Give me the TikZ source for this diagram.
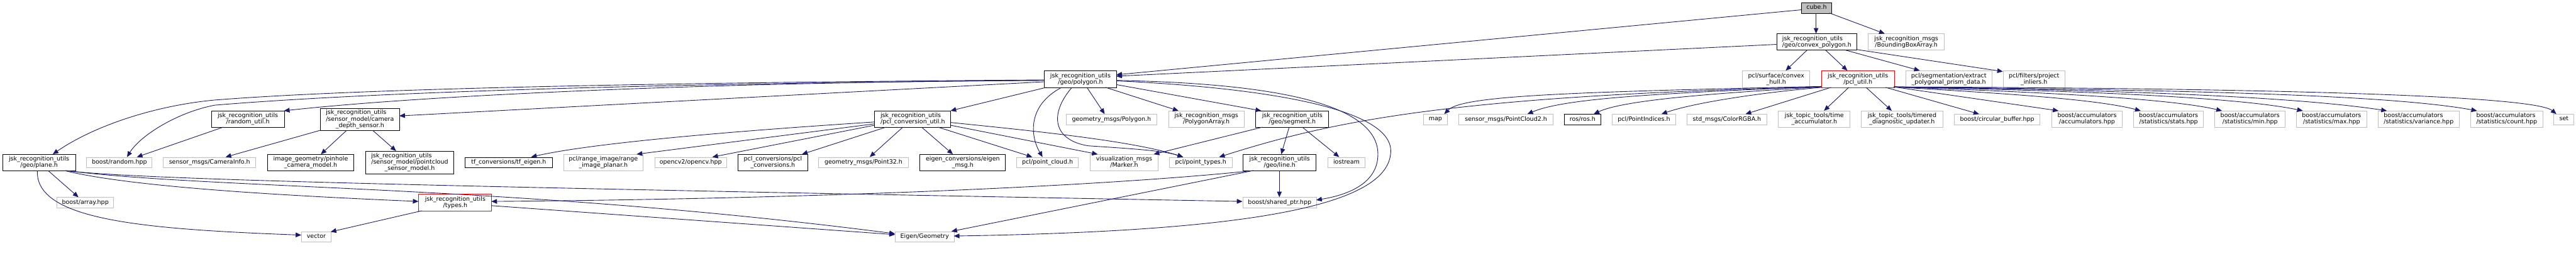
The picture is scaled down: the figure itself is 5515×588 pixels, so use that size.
\documentclass[tikz,border=0pt]{standalone}
\usepackage{fontspec}
\setmainfont{DejaVu Sans}
\usetikzlibrary{arrows.meta}
\definecolor{edgec}{HTML}{191970}
\definecolor{grayc}{HTML}{BFBFBF}
\definecolor{cubefill}{HTML}{BFBFBF}
\newcommand{\twoline}[2]{\begin{tabular}{@{}l@{}}#1\\\multicolumn{1}{@{}c@{}}{#2}\end{tabular}}
\newcommand{\threeline}[3]{\begin{tabular}{@{}l@{}}#1\\#2\\\multicolumn{1}{@{}c@{}}{#3}\end{tabular}}
\begin{document}
\begin{tikzpicture}[x=1pt,y=-1pt,
  box/.style={line width=1.3pt, inner sep=0pt, anchor=north west, font=\fontsize{12.8}{13}\selectfont},
  gbox/.style={box, draw=grayc},
  dbox/.style={box, draw=black},
  rbox/.style={box, draw=red},
  dep/.style={draw=edgec, line width=1.2pt, -{Triangle[length=12pt,width=10pt]}}]
\fill[white] (0,0) rectangle (5515,588);
\useasboundingbox (0,0) rectangle (5515,588);
% row 0
\node[dbox, fill=cubefill, minimum width=65pt, minimum height=23pt] (cube) at (3856,5) {\strut cube.h};
% row 1
\node[dbox, minimum width=172pt, minimum height=35pt] (convex) at (3803,72) {\twoline{jsk\_recognition\_utils}{/geo/convex\_polygon.h}};
\node[gbox, minimum width=163pt, minimum height=35pt] (bba) at (3999,72) {\twoline{jsk\_recognition\_msgs}{/BoundingBoxArray.h}};
% row 2
\node[dbox, minimum width=155pt, minimum height=36pt] (polygon) at (2235,151) {\twoline{jsk\_recognition\_utils}{/geo/polygon.h}};
\node[gbox, minimum width=144pt, minimum height=36pt] (convhull) at (3730,151) {\twoline{pcl/surface/convex}{\_hull.h}};
\node[rbox, minimum width=156pt, minimum height=36pt] (pclutil) at (3899,151) {\twoline{jsk\_recognition\_utils}{/pcl\_util.h}};
\node[gbox, minimum width=185pt, minimum height=36pt] (extract) at (4079,151) {\twoline{pcl/segmentation/extract}{\_polygonal\_prism\_data.h}};
\node[gbox, minimum width=132pt, minimum height=36pt] (projinl) at (4288,151) {\twoline{pcl/filters/project}{\_inliers.h}};
% row 3
\node[dbox, minimum width=156pt, minimum height=35pt] (randutil) at (452,237) {\twoline{jsk\_recognition\_utils}{/random\_util.h}};
\node[dbox, minimum width=170pt, minimum height=48pt] (camdepth) at (685,231) {\threeline{jsk\_recognition\_utils}{/sensor\_model/camera}{\_depth\_sensor.h}};
\node[dbox, minimum width=163pt, minimum height=35pt] (pclconv) at (1872,237) {\twoline{jsk\_recognition\_utils}{/pcl\_conversion\_util.h}};
\node[gbox, minimum width=194pt, minimum height=22pt] (polymsg) at (2282,244) {\strut geometry\_msgs/Polygon.h};
\node[gbox, minimum width=162pt, minimum height=35pt] (polyarr) at (2501,237) {\twoline{jsk\_recognition\_msgs}{/PolygonArray.h}};
\node[dbox, minimum width=156pt, minimum height=35pt] (segment) at (2688,237) {\twoline{jsk\_recognition\_utils}{/geo/segment.h}};
\node[gbox, minimum width=51pt, minimum height=22pt] (map) at (3047,244) {\strut map};
\node[gbox, minimum width=201pt, minimum height=22pt] (pc2) at (3123,244) {\strut sensor\_msgs/PointCloud2.h};
\node[dbox, minimum width=79pt, minimum height=22pt] (ros) at (3348,244) {\strut ros/ros.h};
\node[gbox, minimum width=136pt, minimum height=22pt] (pidx) at (3451,244) {\strut pcl/PointIndices.h};
\node[gbox, minimum width=171pt, minimum height=22pt] (rgba) at (3611,244) {\strut std\_msgs/ColorRGBA.h};
\node[gbox, minimum width=153pt, minimum height=35pt] (timeacc) at (3807,237) {\twoline{jsk\_topic\_tools/time}{\_accumulator.h}};
\node[gbox, minimum width=175pt, minimum height=35pt] (timered) at (3984,237) {\twoline{jsk\_topic\_tools/timered}{\_diagnostic\_updater.h}};
\node[gbox, minimum width=184pt, minimum height=22pt] (circbuf) at (4183,244) {\strut boost/circular\_buffer.hpp};
\node[gbox, minimum width=151pt, minimum height=35pt] (accum) at (4392,237) {\twoline{boost/accumulators}{/accumulators.hpp}};
\node[gbox, minimum width=150pt, minimum height=35pt] (stats) at (4567,237) {\twoline{boost/accumulators}{/statistics/stats.hpp}};
\node[gbox, minimum width=151pt, minimum height=35pt] (minh) at (4741,237) {\twoline{boost/accumulators}{/statistics/min.hpp}};
\node[gbox, minimum width=150pt, minimum height=35pt] (maxh) at (4916,237) {\twoline{boost/accumulators}{/statistics/max.hpp}};
\node[gbox, minimum width=173pt, minimum height=35pt] (var) at (5091,237) {\twoline{boost/accumulators}{/statistics/variance.hpp}};
\node[gbox, minimum width=154pt, minimum height=35pt] (count) at (5289,237) {\twoline{boost/accumulators}{/statistics/count.hpp}};
\node[gbox, minimum width=43pt, minimum height=22pt] (set) at (5467,244) {\strut set};
% row 4
\node[dbox, minimum width=156pt, minimum height=35pt] (plane) at (5,330) {\twoline{jsk\_recognition\_utils}{/geo/plane.h}};
\node[gbox, minimum width=140pt, minimum height=22pt] (boostrand) at (185,336) {\strut boost/random.hpp};
\node[gbox, minimum width=198pt, minimum height=22pt] (caminfo) at (349,336) {\strut sensor\_msgs/CameraInfo.h};
\node[dbox, minimum width=185pt, minimum height=35pt] (pinhole) at (572,330) {\twoline{image\_geometry/pinhole}{\_camera\_model.h}};
\node[dbox, minimum width=189pt, minimum height=48pt] (pcsensor) at (782,323) {\threeline{jsk\_recognition\_utils}{/sensor\_model/pointcloud}{\_sensor\_model.h}};
\node[dbox, minimum width=187pt, minimum height=22pt] (tfeigen) at (995,336) {\strut tf\_conversions/tf\_eigen.h};
\node[gbox, minimum width=170pt, minimum height=35pt] (rangeimg) at (1206,330) {\twoline{pcl/range\_image/range}{\_image\_planar.h}};
\node[gbox, minimum width=154pt, minimum height=22pt] (opencv) at (1401,336) {\strut opencv2/opencv.hpp};
\node[dbox, minimum width=150pt, minimum height=35pt] (pclconvs) at (1579,330) {\twoline{pcl\_conversions/pcl}{\_conversions.h}};
\node[gbox, minimum width=192pt, minimum height=22pt] (point32) at (1752,336) {\strut geometry\_msgs/Point32.h};
\node[dbox, minimum width=183pt, minimum height=35pt] (eigenmsg) at (1969,330) {\twoline{eigen\_conversions/eigen}{\_msg.h}};
\node[gbox, minimum width=132pt, minimum height=22pt] (pcloud) at (2176,336) {\strut pcl/point\_cloud.h};
\node[gbox, minimum width=146pt, minimum height=35pt] (marker) at (2333,330) {\twoline{visualization\_msgs}{/Marker.h}};
\node[gbox, minimum width=134pt, minimum height=22pt] (ptypes) at (2503,336) {\strut pcl/point\_types.h};
\node[dbox, minimum width=156pt, minimum height=35pt] (line) at (2661,330) {\twoline{jsk\_recognition\_utils}{/geo/line.h}};
\node[gbox, minimum width=80pt, minimum height=22pt] (iostream) at (2842,336) {\strut iostream};
% row 5
\node[rbox, minimum width=156pt, minimum height=36pt] (types) at (896,415) {\twoline{jsk\_recognition\_utils}{/types.h}};
\node[gbox, minimum width=122pt, minimum height=22pt] (array) at (121,422) {\strut boost/array.hpp};
\node[gbox, minimum width=158pt, minimum height=22pt] (shptr) at (2660,422) {\strut boost/shared\_ptr.hpp};
% row 6
\node[gbox, minimum width=63pt, minimum height=22pt] (vector) at (645,495) {\strut vector};
\node[gbox, minimum width=126pt, minimum height=22pt] (eigengeo) at (1916,495) {\strut Eigen/Geometry};

% edges from cube
\draw[dep] ([shift={(32,23)}]cube.north west) -- ([shift={(85,0)}]convex.north west);
\draw[dep] ([shift={(61,23)}]cube.north west) -- ([shift={(36,0)}]bba.north west);
\draw[dep] ([shift={(0,16)}]cube.north west) -- ([shift={(155,9)}]polygon.north west);
% edges from convex polygon
\draw[dep] ([shift={(0,23)}]convex.north west) -- ([shift={(155,12)}]polygon.north west);
\draw[dep] ([shift={(66,35)}]convex.north west) -- ([shift={(93,0)}]convhull.north west);
\draw[dep] ([shift={(105,35)}]convex.north west) -- ([shift={(56,0)}]pclutil.north west);
\draw[dep] ([shift={(147,35)}]convex.north west) -- ([shift={(31,0)}]extract.north west);
\draw[dep] ([shift={(172,34)}]convex.north west) -- ([shift={(0,2)}]projinl.north west);
% edges from polygon
\draw[dep] ([shift={(0,20)}]polygon.north west) .. controls (1200,178) and (700,195) .. (460,214) .. controls (330,226) and (200,270) .. ([shift={(108,0)}]plane.north west);
\draw[dep] ([shift={(0,21)}]polygon.north west) .. controls (1200,180) and (700,205) .. (460,225) .. controls (380,240) and (300,290) .. ([shift={(87,0)}]boostrand.north west);
\draw[dep] ([shift={(0,21)}]polygon.north west) .. controls (1500,176) and (900,205) .. ([shift={(156,0)}]randutil.north west);
\draw[dep] ([shift={(0,24)}]polygon.north west) -- ([shift={(170,17)}]camdepth.north west);
\draw[dep] ([shift={(5,36)}]polygon.north west) -- ([shift={(163,0)}]pclconv.north west);
\draw[dep] ([shift={(92,36)}]polygon.north west) -- ([shift={(83,0)}]polymsg.north west);
\draw[dep] ([shift={(132,36)}]polygon.north west) -- ([shift={(22,0)}]polyarr.north west);
\draw[dep] ([shift={(155,30)}]polygon.north west) -- ([shift={(12,0)}]segment.north west);
\draw[dep] ([shift={(38,36)}]polygon.north west) .. controls (2200,225) and (2205,290) .. ([shift={(56,0)}]pcloud.north west);
\draw[dep] ([shift={(60,36)}]polygon.north west) .. controls (2245,245) and (2255,300) .. (2330,312) .. controls (2420,318) and (2490,322) .. ([shift={(30,0)}]ptypes.north west);
\draw[dep] ([shift={(155,21)}]polygon.north west) .. controls (2700,178) and (2950,215) .. (2950,330) .. controls (2950,395) and (2880,418) .. ([shift={(158,6)}]shptr.north west);
\draw[dep] ([shift={(155,22)}]polygon.north west) .. controls (2750,190) and (2990,240) .. (2977,330) .. controls (2965,445) and (2650,495) .. ([shift={(126,10)}]eigengeo.north west);
% random util
\draw[dep] ([shift={(26,35)}]randutil.north west) -- ([shift={(108,0)}]boostrand.north west);
% camera depth sensor
\draw[dep] ([shift={(0,48)}]camdepth.north west) -- ([shift={(134,0)}]caminfo.north west);
\draw[dep] ([shift={(57,48)}]camdepth.north west) -- ([shift={(115,0)}]pinhole.north west);
\draw[dep] ([shift={(113,48)}]camdepth.north west) -- ([shift={(66,0)}]pcsensor.north west);
% pcl conversion util
\draw[dep] ([shift={(0,24)}]pclconv.north west) .. controls (1500,285) and (1250,310) .. ([shift={(142,0)}]tfeigen.north west);
\draw[dep] ([shift={(0,28)}]pclconv.north west) -- ([shift={(157,0)}]rangeimg.north west);
\draw[dep] ([shift={(0,31)}]pclconv.north west) -- ([shift={(124,0)}]opencv.north west);
\draw[dep] ([shift={(25,35)}]pclconv.north west) -- ([shift={(138,0)}]pclconvs.north west);
\draw[dep] ([shift={(61,35)}]pclconv.north west) -- ([shift={(110,0)}]point32.north west);
\draw[dep] ([shift={(101,35)}]pclconv.north west) -- ([shift={(71,0)}]eigenmsg.north west);
\draw[dep] ([shift={(136,35)}]pclconv.north west) -- ([shift={(34,0)}]pcloud.north west);
\draw[dep] ([shift={(163,25)}]pclconv.north west) .. controls (2200,279) and (2420,300) .. ([shift={(30,0)}]ptypes.north west);
\draw[dep] ([shift={(163,31)}]pclconv.north west) -- ([shift={(17,0)}]marker.north west);
% segment
\draw[dep] ([shift={(15,35)}]segment.north west) -- ([shift={(137,0)}]marker.north west);
\draw[dep] ([shift={(72,35)}]segment.north west) -- ([shift={(82,0)}]line.north west);
\draw[dep] ([shift={(100,35)}]segment.north west) -- ([shift={(25,0)}]iostream.north west);
% line
\draw[dep] ([shift={(22,35)}]line.north west) .. controls (2400,395) and (1800,425) .. ([shift={(156,16)}]types.north west);
\draw[dep] ([shift={(22,35)}]line.north west) -- ([shift={(121,0)}]eigengeo.north west);
\draw[dep] ([shift={(78,35)}]line.north west) -- ([shift={(79,0)}]shptr.north west);
% plane
\draw[dep] ([shift={(98,35)}]plane.north west) -- ([shift={(47,0)}]array.north west);
\draw[dep] ([shift={(75,35)}]plane.north west) .. controls (75,470) and (300,490) .. ([shift={(0,8)}]vector.north west);
\draw[dep] ([shift={(133,35)}]plane.north west) .. controls (260,395) and (520,415) .. ([shift={(0,16)}]types.north west);
\draw[dep] ([shift={(135,35)}]plane.north west) .. controls (300,385) and (1000,400) .. ([shift={(0,9)}]shptr.north west);
\draw[dep] ([shift={(137,35)}]plane.north west) .. controls (450,405) and (1100,395) .. ([shift={(0,5)}]eigengeo.north west);
% types
\draw[dep] ([shift={(7,36)}]types.north west) -- ([shift={(63,1)}]vector.north west);
\draw[dep] ([shift={(156,25)}]types.north west) -- ([shift={(0,7)}]eigengeo.north west);
% pcl util
\draw[dep] ([shift={(0,34)}]pclutil.north west) .. controls (3350,197) and (3130,205) .. ([shift={(45,0)}]map.north west);
\draw[dep] ([shift={(0,34)}]pclutil.north west) .. controls (3550,200) and (3350,210) .. ([shift={(147,0)}]pc2.north west);
\draw[dep] ([shift={(0,35)}]pclutil.north west) .. controls (3700,198) and (3480,212) .. ([shift={(64,0)}]ros.north west);
\draw[dep] ([shift={(0,36)}]pclutil.north west) .. controls (3750,200) and (3620,222) .. ([shift={(106,0)}]pidx.north west);
\draw[dep] ([shift={(21,36)}]pclutil.north west) -- ([shift={(126,0)}]rgba.north west);
\draw[dep] ([shift={(0,35)}]pclutil.north west) .. controls (3100,205) and (2850,260) .. ([shift={(107,0)}]ptypes.north west);
\draw[dep] ([shift={(59,36)}]pclutil.north west) -- ([shift={(98,0)}]timeacc.north west);
\draw[dep] ([shift={(96,36)}]pclutil.north west) -- ([shift={(66,0)}]timered.north west);
\draw[dep] ([shift={(138,36)}]pclutil.north west) -- ([shift={(54,0)}]circbuf.north west);
\draw[dep] ([shift={(156,35)}]pclutil.north west) -- ([shift={(15,0)}]accum.north west);
\draw[dep] ([shift={(156,35)}]pclutil.north west) .. controls (4250,198) and (4480,210) .. ([shift={(16,0)}]stats.north west);
\draw[dep] ([shift={(156,35)}]pclutil.north west) .. controls (4400,198) and (4650,212) .. ([shift={(16,0)}]minh.north west);
\draw[dep] ([shift={(156,35)}]pclutil.north west) .. controls (4500,195) and (4800,210) .. ([shift={(14,0)}]maxh.north west);
\draw[dep] ([shift={(156,35)}]pclutil.north west) .. controls (4500,192) and (4900,205) .. ([shift={(19,0)}]var.north west);
\draw[dep] ([shift={(156,35)}]pclutil.north west) .. controls (4600,192) and (5100,200) .. ([shift={(14,0)}]count.north west);
\draw[dep] ([shift={(156,35)}]pclutil.north west) .. controls (4700,188) and (5420,200) .. ([shift={(6,0)}]set.north west);
\end{tikzpicture}
\end{document}
